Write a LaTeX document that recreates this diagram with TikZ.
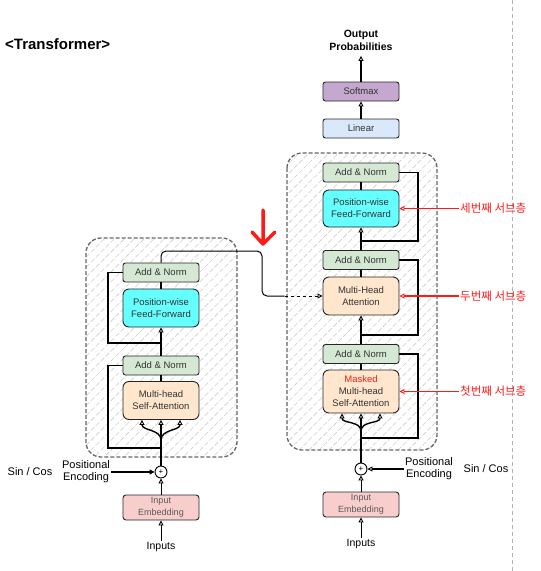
\documentclass[tikz,border=0pt]{standalone}
\usepackage{fontspec}
\setmainfont{Liberation Sans}
\newfontfamily\kofont{Noto Sans CJK KR}
\usetikzlibrary{arrows.meta,calc,patterns.meta}

\definecolor{normfill}{HTML}{D5E8D4}
\definecolor{fffill}{HTML}{66FFFF}
\definecolor{attfill}{HTML}{FFE6CC}
\definecolor{embfill}{HTML}{F8CECC}
\definecolor{linfill}{HTML}{DAE8FC}
\definecolor{softfill}{HTML}{C4A8CF}
\definecolor{txt}{HTML}{333333}
\definecolor{annred}{HTML}{FF1A1A}

\tikzset{
  box/.style={draw=black!85, line width=0.9pt, minimum width=76pt, inner sep=0pt, align=center, text=txt, font=\fontsize{9.5}{12}\selectfont},
  norm/.style={box, fill=normfill, rounded corners=2.5pt, minimum height=19pt},
  ffn/.style={box, fill=fffill, rounded corners=6pt, minimum height=38pt},
  att/.style={box, fill=attfill, rounded corners=6pt, minimum height=38pt},
  emb/.style={box, fill=embfill, rounded corners=3pt, minimum height=25pt, text=black!65, font=\fontsize{9}{11.5}\selectfont},
  lin/.style={box, fill=linfill, rounded corners=2.5pt, minimum height=19pt},
  soft/.style={box, fill=softfill, rounded corners=2.5pt, minimum height=19pt},
  plus/.style={circle, draw, fill=white, line width=0.9pt, minimum size=12pt, inner sep=0pt, font=\fontsize{8}{8}\selectfont},
  txtnode/.style={align=center, inner sep=1pt, font=\fontsize{11}{12}\selectfont},
  layer/.style={draw=black!60, dash pattern=on 4pt off 2pt, line width=1.3pt, rounded corners=15pt, pattern={Lines[angle=45,distance=7pt,line width=0.6pt]}, pattern color=black!20},
  arr/.style={-{Triangle[open,length=5pt,width=5pt,line width=0.9pt]}},
  wire/.style={line width=1.4pt},
  note/.style={text=annred, anchor=west, inner sep=1pt, font=\kofont\fontsize{11.5}{13}\selectfont},
  noteline/.style={draw=annred, line width=1.1pt, -{Triangle[open,length=5pt,width=5pt,line width=0.9pt]}},
}

\begin{document}
\begin{tikzpicture}[x=1pt,y=-1pt]
\useasboundingbox (0,0) rectangle (541,571);
\draw[black!30, line width=0.8pt, dash pattern=on 4pt off 3pt] (512,0) -- (512,571);
\node[anchor=west, inner sep=0pt, font=\bfseries\fontsize{15}{16}\selectfont] (title) at (5,44) {<Transformer>};

\draw[layer] (86,238) rectangle (237,457);
\draw[layer] (287,153) rectangle (437,450);

% encoder
\node[emb] (encE) at (161,507.5) {Input\\Embedding};
\node[plus] (encP) at (161,472) {+};
\node[att] (encM) at (161,400.5) {Multi-head\\Self-Attention};
\node[norm] (encA1) at (161,365.5) {Add \& Norm};
\node[ffn] (encF) at (161,308) {Position-wise\\Feed-Forward};
\node[norm] (encA2) at (161,272.5) {Add \& Norm};
\node[txtnode, font=\fontsize{10.5}{12}\selectfont] (encIn) at (161,547) {Inputs};
\node[txtnode] (encPE) at (86,472) {Positional\\Encoding};
\node[txtnode] (encSC) at (30,472) {Sin / Cos};

% decoder
\node[emb] (decE) at (361,504.5) {Input\\Embedding};
\node[plus] (decP) at (361,469) {+};
\node[att, minimum height=43pt] (decM1) at (361,391.5) {\textcolor{annred}{Masked}\\Multi-head\\Self-Attention};
\node[norm] (decA1) at (361,354) {Add \& Norm};
\node[att] (decM2) at (361,296) {Multi-Head\\Attention};
\node[norm] (decA2) at (361,260) {Add \& Norm};
\node[ffn, minimum height=37pt] (decF) at (361,208.5) {Position-wise\\Feed-Forward};
\node[norm] (decA3) at (361,172.5) {Add \& Norm};
\node[lin] (lin) at (361,128.5) {Linear};
\node[soft] (soft) at (361,91.5) {Softmax};
\node[txtnode, font=\bfseries\fontsize{10.5}{13}\selectfont] (out) at (361,40.5) {Output\\Probabilities};
\node[txtnode, font=\fontsize{10.5}{12}\selectfont] (decIn) at (361,544) {Inputs};
\node[txtnode] (decPE) at (429,469) {Positional\\Encoding};
\node[txtnode] (decSC) at (486,469) {Sin / Cos};

\coordinate (encB) at (161,440);
\coordinate (encR1) at (161,448);
\coordinate (encR2) at (161,343);
\coordinate (decB) at (361,431);
\coordinate (decR1) at (361,438);
\coordinate (decR2) at (361,335);
\coordinate (decR3) at (361,241);
\coordinate (memA) at (262,251);
\coordinate (memB) at ($(decM2.west)+(-38,0)$);

\draw[arr] (encIn) -- (encE);
\draw[arr] (encE) -- (encP);
\draw[wire, -{Triangle[length=5pt,width=5pt]}] (encPE) -- (encP);
\draw[wire, arr] (encP) -- (encM);
\draw[wire, arr] (encB) to[out=90,in=-90] ($(encM.south)+(-19,0)$);
\draw[wire, arr] (encB) to[out=90,in=-90] ($(encM.south)+(19,0)$);
\draw[wire] (encR1) -- ++(-53,0) |- (encA1.west);
\draw[wire] (encM) -- (encA1);
\draw[wire, arr] (encA1) -- (encF);
\draw[wire] (encR2) -- ++(-53,0) |- (encA2.west);
\draw[wire] (encF) -- (encA2);
\draw[line width=1pt, rounded corners=5pt] (encA2.north) |- (memA) |- (memB);
\draw[line width=1pt, dashed, arr] (memB) -- (decM2.west);

\draw[arr] (decIn) -- (decE);
\draw[arr] (decE) -- (decP);
\draw[wire, arr] (decPE) -- (decP);
\draw[wire, arr] (decP) -- (decM1);
\draw[wire, arr] (decB) to[out=90,in=-90] ($(decM1.south)+(-19,0)$);
\draw[wire, arr] (decB) to[out=90,in=-90] ($(decM1.south)+(19,0)$);
\draw[wire] (decR1) -- ++(57,0) |- (decA1.east);
\draw[wire] (decM1) -- (decA1);
\draw[wire, arr] (decA1) -- (decM2);
\draw[wire] (decR2) -- ++(57,0) |- (decA2.east);
\draw[wire] (decM2) -- (decA2);
\draw[wire, arr] (decA2) -- (decF);
\draw[wire] (decR3) -- ++(57,0) |- (decA3.east);
\draw[wire] (decF) -- (decA3);
\draw[wire, arr] (lin) -- (soft);
\draw[wire, arr, shorten >=4pt] (soft) -- (out);

% sublayer notes
\node[note] (n3) at (459,208.5) {세번째 서브층};
\node[note] (n2) at (459,296) {두번째 서브층};
\node[note] (n1) at (459,391.5) {첫번째 서브층};
\draw[noteline] (n3) -- (decF);
\draw[noteline] (n2) -- (decM2);
\draw[noteline] (n1) -- (decM1);

\draw[annred, line width=3.5pt, line cap=round, line join=round] (263,210) -- (263,243) (252,232) -- (263,244) -- (275,232);
\end{tikzpicture}
\end{document}
